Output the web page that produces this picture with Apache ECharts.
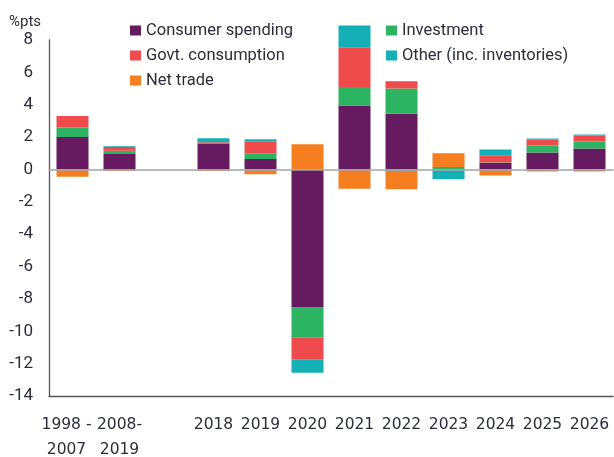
<!DOCTYPE html>
<html>
<head>
<meta charset="utf-8">
<script src="https://cdn.jsdelivr.net/npm/echarts@6/dist/echarts.min.js"></script>
<style>
  html, body { margin: 0; padding: 0; background: #fff; }
  #chart { width: 614px; height: 457px; }
</style>
</head>
<body>
<div id="chart"></div>
<script>
// categories (the empty one is the gap between the averages and the years)
const categories = ['1998 -\n2007', '2008-\n2019', '', '2018', '2019', '2020', '2021', '2022', '2023', '2024', '2025', '2026']
const yTicks = { min: -14, max: 8, interval: 2 }

// contributions, %pts
const consumer = [2.0, 0.95, null, 1.6, 0.65, -8.5, 3.95, 3.45, 0, 0.4, 1.05, 1.3]
const investment = [0.6, 0.2, null, 0, 0.35, -1.9, 1.15, 1.55, 0.15, 0.03, 0.43, 0.43]
const govt = [0.7, 0.25, null, 0.08, 0.75, -1.36, 2.45, 0.45, 0, 0.45, 0.37, 0.37]
const other = [0, 0.05, null, 0.25, 0.12, -0.8, 1.35, -0.08, -0.6, 0.35, 0.06, 0.06]
const netTrade = [-0.45, -0.1, null, -0.1, -0.3, 1.55, -1.2, -1.15, 0.85, -0.37, -0.12, -0.12]

const font = 'Roboto'
const labelFont = 'DejaVu Sans'
const textColor = '#2b2d3c'
const colors = ['#661b61', '#2db462', '#ef4b4d', '#15b0b6', '#f57f20']

const chart = echarts.init(document.getElementById('chart'))

function barSeries(name, data) {
  return {
    name: name,
    type: 'bar',
    stack: 'total',
    barWidth: 32,
    clip: false,
    data: data,
  }
}

const legendStyle = {
  top: 17,
  orient: 'vertical',
  icon: 'rect',
  itemWidth: 11,
  itemHeight: 10,
  itemGap: 8,
  textStyle: { fontFamily: font, fontSize: 16.5, lineHeight: 17, color: textColor },
}

const option = {
  color: colors,
  animation: false,
  title: {
    text: '%pts',
    left: 4,
    top: 9,
    textStyle: { fontFamily: font, fontSize: 15, lineHeight: 16, fontWeight: 'normal', color: textColor },
  },
  legend: [
    Object.assign({ data: ['Consumer spending', 'Govt. consumption', 'Net trade'], left: 125 }, legendStyle),
    Object.assign({ data: ['Investment', 'Other (inc. inventories)'], left: 381 }, legendStyle),
  ],
  grid: { left: 49, right: 1, top: 40, bottom: 61, outerBoundsMode: 'none' },
  xAxis: [
    {
      type: 'category',
      position: 'bottom',
      data: categories.map((v, i) => i === 0 ? { value: v, textStyle: { padding: [0, 12, 0, 0] } } : v),
      axisLine: { onZero: false, lineStyle: { color: '#555', width: 1.3 } },
      axisTick: { show: false },
      axisLabel: {
        interval: 0,
        margin: 16.5,
        fontFamily: labelFont,
        fontSize: 15.5,
        lineHeight: 25,
        color: textColor,
      },
    },
    {
      // zero line
      type: 'category',
      position: 'bottom',
      data: categories,
      z: 5,
      axisLine: { onZero: true, lineStyle: { color: '#a3a6ab', width: 1.6 } },
      axisTick: { show: false },
      axisLabel: { show: false },
    },
  ],
  yAxis: {
    type: 'value',
    min: yTicks.min,
    max: yTicks.max,
    interval: yTicks.interval,
    axisLine: { show: true, lineStyle: { color: '#555', width: 1.3 } },
    axisTick: { show: false },
    splitLine: { show: false },
    axisLabel: { margin: 16, fontFamily: font, fontSize: 17, color: textColor },
  },
  series: [
    barSeries('Consumer spending', consumer),
    barSeries('Investment', investment),
    barSeries('Govt. consumption', govt),
    barSeries('Other (inc. inventories)', other),
    barSeries('Net trade', netTrade),
  ],
}

chart.setOption(option)
</script>
</body>
</html>
